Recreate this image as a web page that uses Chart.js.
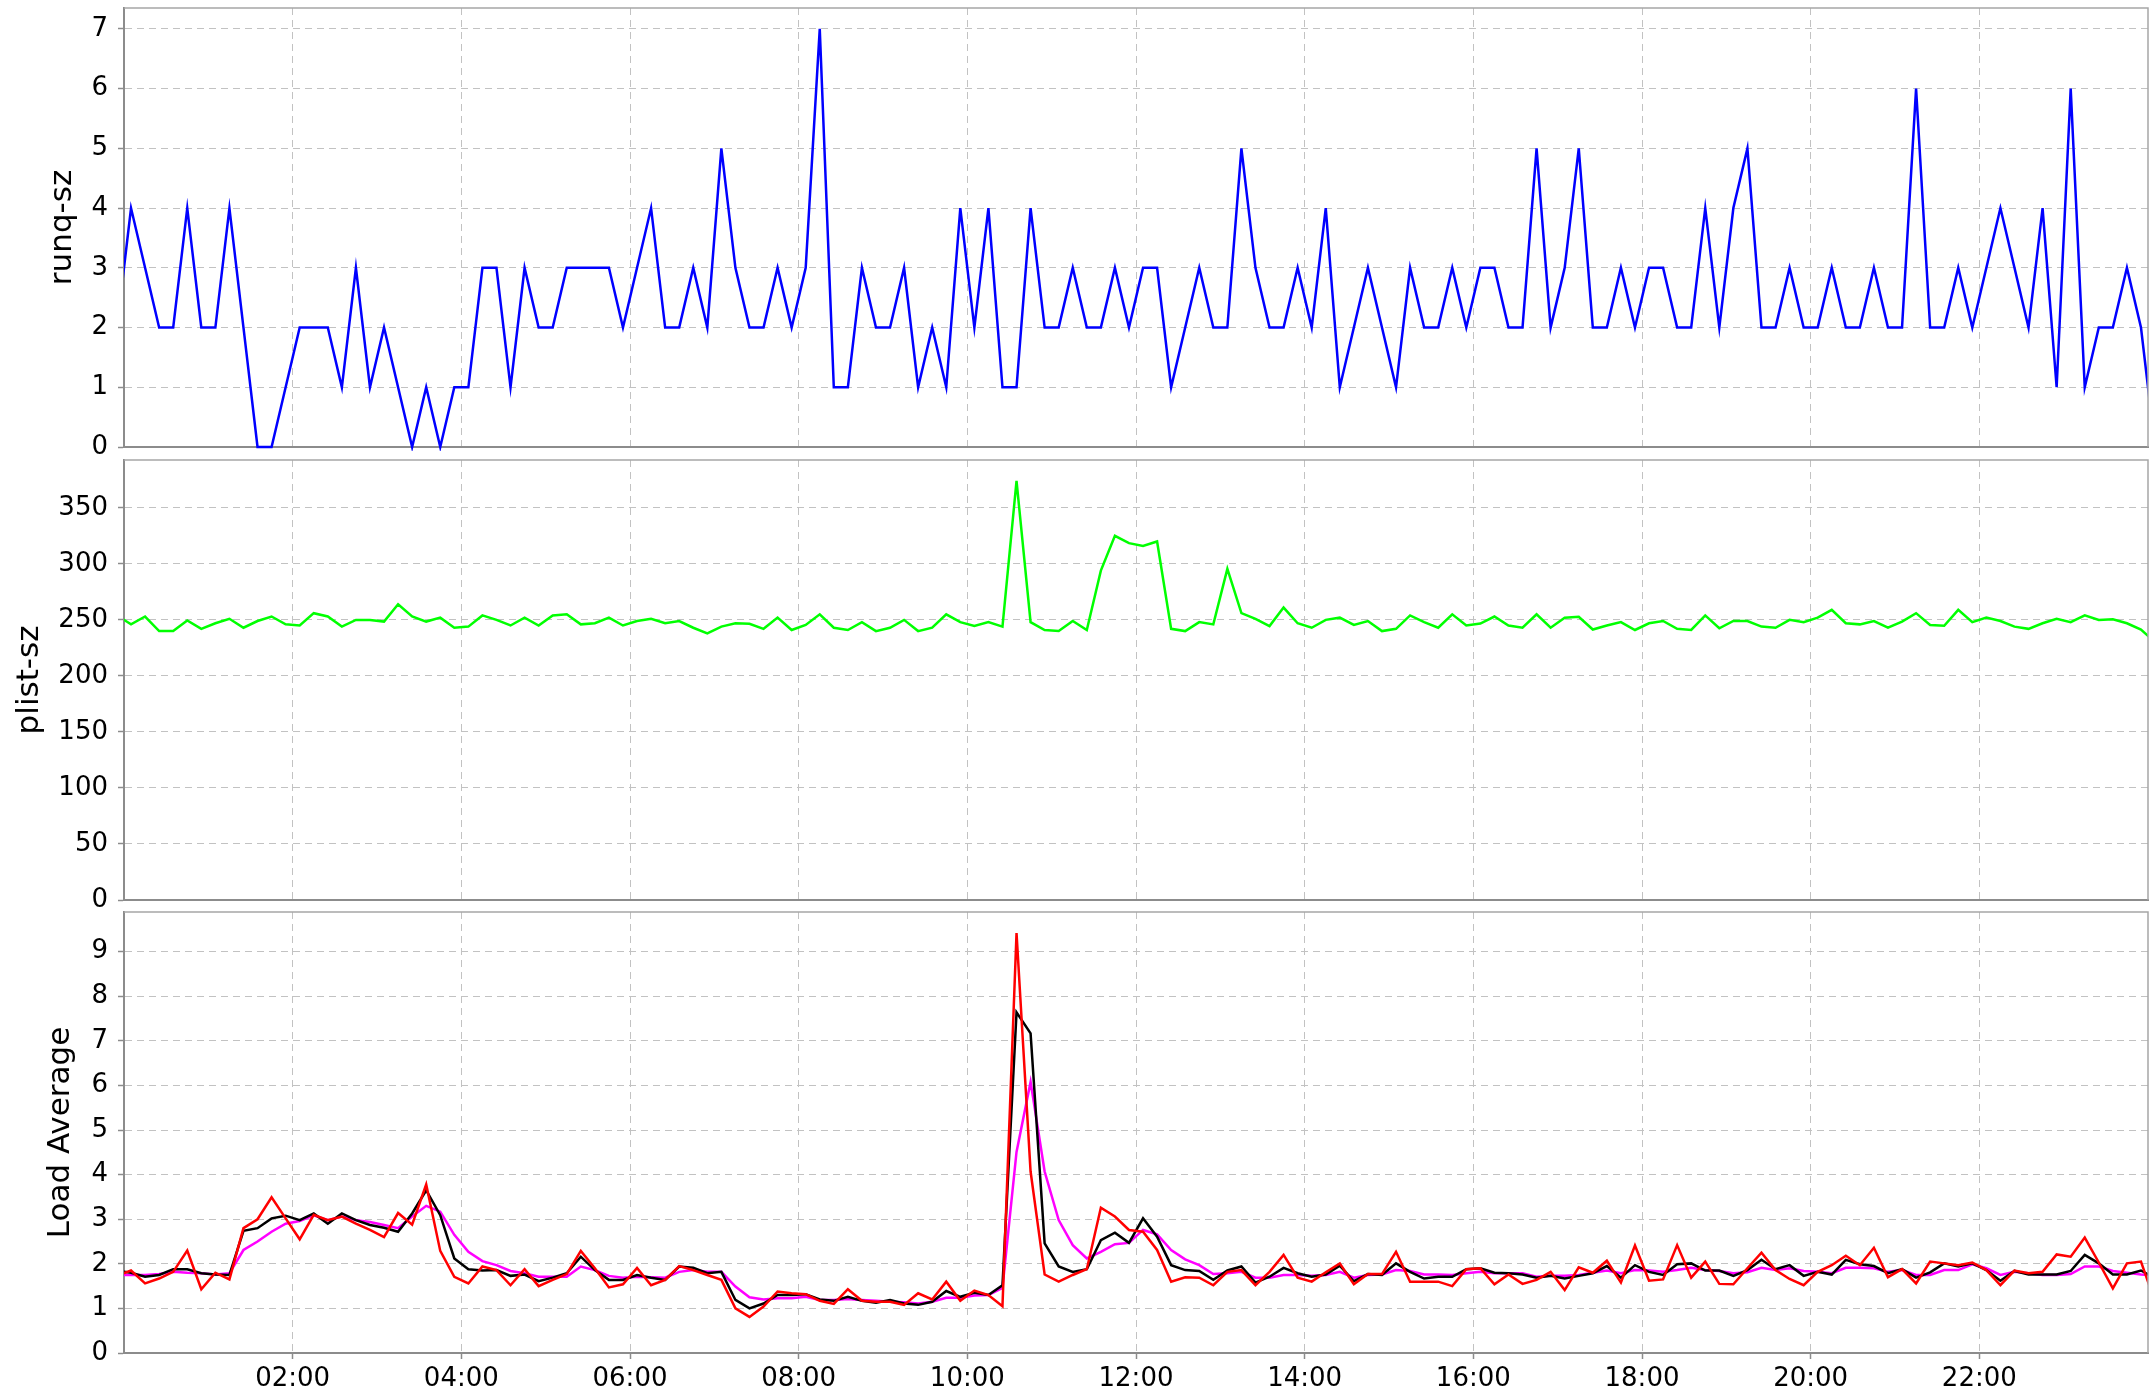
<!DOCTYPE html>
<html>
<head>
<meta charset="utf-8">
<script src="https://cdn.jsdelivr.net/npm/chart.js@4.4.1/dist/chart.umd.min.js"></script>
<style>
  html, body { margin: 0; padding: 0; background: #ffffff; width: 2156px; height: 1396px; overflow: hidden; }
  canvas { position: absolute; left: 0; }
</style>
</head>
<body>
<canvas id="cRunq" width="2156" height="499" style="top:-22px"></canvas>
<canvas id="cPlist" width="2156" height="500" style="top:430px"></canvas>
<canvas id="cLoad" width="2156" height="514" style="top:882px"></canvas>
<script>
// ---- sampling schedule (minutes after midnight): one sample every 10 minutes,
// series include the 23:55 sample of the previous day and the 00:05 sample of the next day
const SAMPLE_START_MIN = -5;
const SAMPLE_STEP_MIN = 10;

// ---- time axis
const timeTicks = [120, 240, 360, 480, 600, 720, 840, 960, 1080, 1200, 1320];
const timeTickLabels = ['02:00', '04:00', '06:00', '08:00', '10:00', '12:00', '14:00', '16:00', '18:00', '20:00', '22:00'];

// ---- runq-sz
const runqSz = [2,
  4,3,2,2,4,2,2,4,2,0, 0,1,2,2,2,1,3,1,2,1, 0,1,0,1,1,3,3,1,3,2, 2,3,3,3,3,2,3,4,2,2,
  3,2,5,3,2,2,3,2,3,7, 1,1,3,2,2,3,1,2,1,4, 2,4,1,1,4,2,2,3,2,2, 3,2,3,3,1,2,3,2,2,5,
  3,2,2,3,2,4,1,2,3,2, 1,3,2,2,3,2,3,3,2,2, 5,2,3,5,2,2,3,2,3,3, 2,2,4,2,4,5,2,2,3,2,
  2,3,2,2,3,2,2,6,2,2, 3,2,3,4,3,2,4,1,6,1, 2,2,3,2,
  0];

// ---- plist-sz
const plistSz = [254,
  246,253,240,240,249.5,242,247,251,243,249, 253,246,245,256,253,244,250,250,248.5,264,
  253,248.5,252,243,244,254,250,245,252,245, 254,255,246,247,252,245,249,251,247,249,
  243,238,244,247,246.5,242,252,241,245.5,255, 243,241,248,240,243,250,240,243,255,248,
  244.5,248,244,374,248,241,240,249,241,294, 325,318.5,316,320,242,240,248,246,295.5,256,
  251,244.5,261,247,243,250,252,245.5,249,240, 242,254,248,243,255,245,246.7,253,245,243,
  255,243,252,252.7,241.4,245,248,241,247,249, 242,241,254,242.5,249,249,244,243,250,248,
  252,259,247,246,249,243,248.5,256,245.5,244.7, 259,248,252,249,244,242,247,251,248,254,
  250,250.6,247,241.4,
  230];

// ---- load averages
const ldavgRed = [1.73,
  1.85,1.56,1.67,1.82,2.3,1.43,1.8,1.65,2.8,3.0, 3.49,3.02,2.55,3.1,2.98,3.06,2.9,2.76,2.6,3.14,
  2.88,3.78,2.29,1.71,1.56,1.94,1.86,1.52,1.88,1.5, 1.64,1.77,2.29,1.9,1.47,1.54,1.91,1.52,1.64,1.95,
  1.86,1.75,1.64,1.0,0.81,1.04,1.38,1.34,1.32,1.17, 1.1,1.43,1.17,1.15,1.15,1.08,1.34,1.2,1.6,1.17,
  1.4,1.3,1.05,9.42,4.07,1.76,1.6,1.75,1.88,3.26, 3.06,2.76,2.72,2.31,1.6,1.7,1.69,1.52,1.82,1.86,
  1.52,1.82,2.2,1.69,1.6,1.81,2.01,1.54,1.77,1.77, 2.27,1.6,1.6,1.6,1.5,1.88,1.9,1.54,1.76,1.55,
  1.64,1.82,1.41,1.92,1.8,2.07,1.58,2.41,1.62,1.65, 2.42,1.69,2.05,1.55,1.54,1.9,2.25,1.86,1.66,1.52,
  1.82,1.97,2.18,1.97,2.36,1.7,1.88,1.56,2.05,2.01, 1.97,2.03,1.86,1.52,1.85,1.79,1.82,2.21,2.16,2.59,
  2.03,1.45,2.01,2.05,
  1.15];

const ldavgBlack = [1.84,
  1.8,1.71,1.75,1.88,1.88,1.79,1.76,1.75,2.74,2.8, 3.02,3.08,2.98,3.13,2.9,3.13,2.98,2.87,2.81,2.72,
  3.13,3.65,3.09,2.12,1.88,1.85,1.86,1.73,1.76,1.61, 1.69,1.79,2.16,1.86,1.64,1.64,1.75,1.69,1.64,1.94,
  1.91,1.79,1.82,1.19,1.0,1.11,1.3,1.3,1.32,1.2, 1.17,1.26,1.17,1.13,1.19,1.11,1.08,1.15,1.39,1.26,
  1.35,1.3,1.52,7.64,7.17,2.46,1.94,1.82,1.88,2.53, 2.7,2.47,3.02,2.61,1.97,1.86,1.84,1.64,1.85,1.94,
  1.58,1.71,1.91,1.79,1.71,1.76,1.96,1.61,1.77,1.75, 2.01,1.82,1.67,1.71,1.71,1.88,1.9,1.8,1.79,1.76,
  1.69,1.73,1.67,1.73,1.79,1.95,1.69,1.97,1.82,1.75, 1.99,2.01,1.85,1.85,1.73,1.86,2.09,1.88,1.97,1.73,
  1.82,1.76,2.09,1.99,1.95,1.79,1.88,1.69,1.81,2.01, 1.94,2.01,1.86,1.62,1.84,1.76,1.76,1.76,1.84,2.2,
  2.01,1.76,1.76,1.85,
  1.68];

const ldavgMagenta = [1.75,
  1.75,1.75,1.77,1.82,1.8,1.79,1.76,1.79,2.31,2.5, 2.72,2.9,2.96,3.09,2.98,3.06,2.98,2.94,2.87,2.8,
  3.06,3.3,3.17,2.65,2.27,2.06,1.97,1.84,1.79,1.71, 1.71,1.71,1.94,1.86,1.73,1.69,1.71,1.7,1.69,1.82,
  1.86,1.82,1.82,1.49,1.25,1.2,1.23,1.23,1.26,1.19, 1.19,1.21,1.19,1.17,1.15,1.14,1.11,1.15,1.24,1.24,
  1.29,1.3,1.46,4.51,6.08,4.07,2.98,2.42,2.12,2.27, 2.44,2.47,2.76,2.66,2.31,2.1,1.97,1.77,1.79,1.82,
  1.69,1.69,1.75,1.75,1.73,1.75,1.82,1.69,1.75,1.76, 1.86,1.84,1.76,1.76,1.75,1.79,1.82,1.79,1.79,1.79,
  1.71,1.73,1.73,1.75,1.8,1.85,1.79,1.86,1.85,1.82, 1.86,1.91,1.86,1.84,1.79,1.81,1.91,1.86,1.9,1.84,
  1.82,1.79,1.91,1.91,1.9,1.82,1.86,1.75,1.75,1.86, 1.86,1.99,1.9,1.75,1.82,1.79,1.75,1.75,1.77,1.94,
  1.94,1.84,1.8,1.76,
  1.74];

// ---- styling
const FONT = 'DejaVu Sans';
const GRID_COLOR = '#c2c2c2';
const AXIS_COLOR = '#8c8c8c';
const FRAME_COLOR = '#a6a6a6';

function toPoints(values) {
  return values.map((v, k) => ({ x: SAMPLE_START_MIN + SAMPLE_STEP_MIN * k, y: v }));
}

const framePlugin = {
  id: 'frame',
  afterDraw(chart) {
    const { ctx, chartArea: a } = chart;
    ctx.save();
    ctx.strokeStyle = FRAME_COLOR;
    ctx.lineWidth = 1.5;
    ctx.beginPath();
    ctx.moveTo(a.left, a.top);
    ctx.lineTo(a.right, a.top);
    ctx.lineTo(a.right, a.bottom);
    ctx.stroke();
    ctx.restore();
  }
};

function makeChart(id, cfg) {
  const datasets = cfg.series.map(s => ({
    data: toPoints(s.values),
    borderColor: s.color,
    borderWidth: 2.5,
    pointRadius: 0,
    pointHoverRadius: 0,
    tension: 0,
    fill: false,
    clip: { left: 0, right: 0, top: 4, bottom: 4 }
  }));
  const allValues = cfg.series.flatMap(s => s.values);
  const yMax = Math.max(...allValues) * 1.05;
  return new Chart(document.getElementById(id), {
    type: 'line',
    data: { datasets },
    plugins: [framePlugin],
    options: {
      responsive: false,
      animation: false,
      devicePixelRatio: 1,
      events: [],
      layout: { padding: { left: cfg.padLeft, right: 8, top: 30, bottom: cfg.showX ? 0 : 30 } },
      plugins: { legend: { display: false }, tooltip: { enabled: false }, title: { display: false } },
      scales: {
        x: {
          type: 'linear',
          min: 0,
          max: 1440,
          afterBuildTicks: s => { s.ticks = timeTicks.map(v => ({ value: v })); },
          afterFit: s => { s.height = cfg.showX ? 43 : 0; },
          ticks: {
            display: cfg.showX,
            autoSkip: false,
            maxRotation: 0,
            color: '#000000',
            font: { family: FONT, size: 26 },
            padding: 5,
            callback: (v, i) => timeTickLabels[i]
          },
          grid: {
            color: GRID_COLOR,
            lineWidth: 1,
            drawTicks: cfg.showX,
            tickLength: 6,
            tickColor: AXIS_COLOR,
            tickWidth: 1.5
          },
          border: { display: true, color: AXIS_COLOR, width: 2, dash: [7, 5] }
        },
        y: {
          type: 'linear',
          min: 0,
          max: yMax,
          afterFit: s => { s.width = cfg.axisWidth; },
          ticks: {
            stepSize: cfg.step,
            includeBounds: false,
            autoSkip: false,
            color: '#000000',
            font: { family: FONT, size: 26 },
            padding: 10
          },
          grid: {
            color: GRID_COLOR,
            lineWidth: 1,
            drawTicks: true,
            tickLength: 6,
            tickColor: AXIS_COLOR,
            tickWidth: 1.5
          },
          border: { display: true, color: AXIS_COLOR, width: 2, dash: [7, 5] },
          title: {
            display: true,
            text: cfg.title,
            color: '#000000',
            font: { family: FONT, size: 31 },
            padding: { top: 4, bottom: 4 }
          }
        }
      }
    }
  });
}

makeChart('cRunq', {
  title: 'runq-sz', step: 1, padLeft: 40, axisWidth: 84, showX: false,
  series: [{ values: runqSz, color: '#0000ff' }]
});
makeChart('cPlist', {
  title: 'plist-sz', step: 50, padLeft: 7, axisWidth: 117, showX: false,
  series: [{ values: plistSz, color: '#00ff00' }]
});
makeChart('cLoad', {
  title: 'Load Average', step: 1, padLeft: 38, axisWidth: 86, showX: true,
  series: [
    { values: ldavgRed, color: '#ff0000' },
    { values: ldavgBlack, color: '#000000' },
    { values: ldavgMagenta, color: '#ff00ff' }
  ]
});
</script>
</body>
</html>
